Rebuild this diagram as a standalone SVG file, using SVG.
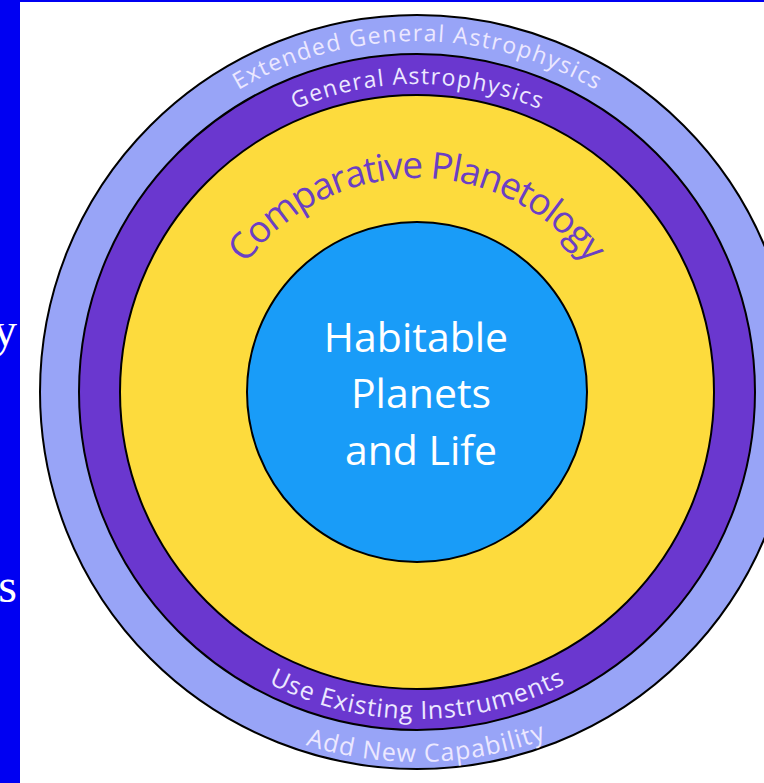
<svg xmlns="http://www.w3.org/2000/svg" xmlns:xlink="http://www.w3.org/1999/xlink" width="764" height="783" viewBox="0 0 764 783">
  <style>
    .ring { stroke: #000; stroke-width: 2; }
    .band { font-family: "Open Sans", "Noto Sans", sans-serif; fill: #ece8ff; font-size: 23px; }
    .cp { font-family: "Open Sans", "Noto Sans", sans-serif; fill: #6b3fc4; font-size: 37px; }
    .core { font-family: "Open Sans", "Noto Sans", sans-serif; fill: #ffffff; font-size: 41px; text-anchor: middle; }
    .slide { font-family: "Liberation Serif", "Times New Roman", serif; fill: #ffffff; font-size: 48px; text-anchor: end; }
  </style>
  <defs>
    <path id="arcT351" d="M 66 392 A 351 351 0 0 1 768 392"/>
    <path id="arcT308" d="M 109 392 A 308 308 0 0 1 725 392"/>
    <path id="arcT214" d="M 203 392 A 214 214 0 0 1 631 392"/>
    <path id="arcB327" d="M 90 392 A 327 327 0 0 0 744 392"/>
    <path id="arcB370" d="M 47 392 A 370 370 0 0 0 787 392"/>
  </defs>
  <rect x="0" y="0" width="764" height="783" fill="#ffffff"/>
  <g id="strip">
    <rect x="0" y="0" width="20" height="783" fill="#0000f2"/>
    <rect x="0" y="0" width="764" height="2" fill="#0000f2"/>
    <text class="slide" x="17" y="346">y</text>
    <text class="slide" x="17" y="602">s</text>
  </g>
  <g id="connectors"></g>
  <g id="ring-extended">
    <circle class="ring" cx="417" cy="392" r="377" fill="#98a4f7"/>
    <text class="band"><textPath xlink:href="#arcT351" href="#arcT351" startOffset="50%" text-anchor="middle" textLength="375" lengthAdjust="spacing">Extended General Astrophysics</textPath></text>
    <text class="band" style="font-size:25px"><textPath xlink:href="#arcB370" href="#arcB370" startOffset="50.8%" text-anchor="middle" textLength="245" lengthAdjust="spacing">Add New Capability</textPath></text>
  </g>
  <g id="ring-general">
    <circle class="ring" cx="417" cy="392" r="338" fill="#6a37cf"/>
    <text class="band"><textPath xlink:href="#arcT308" href="#arcT308" startOffset="50%" text-anchor="middle" textLength="251" lengthAdjust="spacing">General Astrophysics</textPath></text>
    <text class="band" style="font-size:25px"><textPath xlink:href="#arcB327" href="#arcB327" startOffset="50%" text-anchor="middle" textLength="308" lengthAdjust="spacing">Use Existing Instruments</textPath></text>
  </g>
  <g id="ring-comparative">
    <circle class="ring" cx="417" cy="392" r="297" fill="#fddb3d"/>
    <text class="cp"><textPath xlink:href="#arcT214" href="#arcT214" startOffset="50%" text-anchor="middle" textLength="398" lengthAdjust="spacing">Comparative Planetology</textPath></text>
  </g>
  <g id="core">
    <circle class="ring" cx="417" cy="392" r="170" fill="#199cf8"/>
    <text class="core" x="416" y="352">Habitable</text>
    <text class="core" x="421" y="408">Planets</text>
    <text class="core" x="421" y="465">and Life</text>
  </g>
</svg>
